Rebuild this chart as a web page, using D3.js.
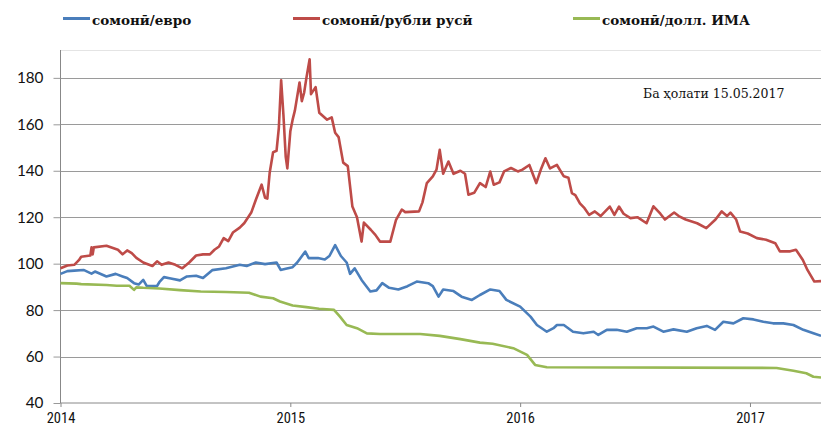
<!DOCTYPE html>
<html>
<head>
<meta charset="utf-8">
<script src="https://cdn.jsdelivr.net/npm/d3@7"></script>
<style>
  html, body { margin: 0; padding: 0; background: #fff; }
  svg { display: block; }
</style>
</head>
<body>
<svg id="chart" width="821" height="427"></svg>
<script>
// ---- DATA (time as decimal year, value = index) ----
const seriesNames = ["сомонӣ/евро", "сомонӣ/рубли русӣ", "сомонӣ/долл. ИМА"];
const yTicks = [40, 60, 80, 100, 120, 140, 160, 180];
const xTicks = [2014, 2015, 2016, 2017];
const note = "Ба ҳолати 15.05.2017";

const eurTime = [2014.00,2014.03,2014.06,2014.10,2014.135,2014.15,2014.20,2014.24,2014.27,2014.29,2014.32,2014.34,2014.36,2014.375,2014.42,2014.43,2014.45,2014.48,2014.52,2014.55,2014.59,2014.62,2014.66,2014.72,2014.78,2014.81,2014.85,2014.89,2014.94,2014.958,2014.98,2015.01,2015.03,2015.065,2015.08,2015.12,2015.15,2015.17,2015.195,2015.22,2015.245,2015.26,2015.28,2015.31,2015.348,2015.375,2015.40,2015.43,2015.47,2015.51,2015.55,2015.60,2015.62,2015.645,2015.665,2015.71,2015.745,2015.79,2015.825,2015.87,2015.91,2015.94,2016.00,2016.045,2016.073,2016.116,2016.145,2016.16,2016.19,2016.23,2016.275,2016.32,2016.34,2016.377,2016.42,2016.464,2016.507,2016.551,2016.58,2016.623,2016.667,2016.725,2016.768,2016.812,2016.848,2016.884,2016.928,2016.971,2017.015,2017.058,2017.10,2017.145,2017.189,2017.232,2017.276,2017.309];
const eurValue = [95.6,96.8,97,97.3,95.7,96.6,94.5,95.6,94.5,93.8,91.6,91,93,90.4,90.4,92,94.2,93.6,92.8,94.5,94.8,93.8,97.2,98,99.5,99,100.5,99.8,100.5,97.3,97.8,98.5,100.5,105.2,102.4,102.4,101.8,103.3,108,103.3,100.5,95.6,98,93,88,88.5,91.6,89.6,88.9,90.3,92.3,91.6,90.3,85.8,88.9,88.2,85.8,84.4,86.5,88.9,88.2,84.4,81.5,77.2,73.6,70.7,72.2,73.6,73.6,70.7,70,70.7,69.3,71.5,71.5,70.7,72.2,72.2,72.9,70.7,71.7,70.7,72.2,73.2,71.5,75,74.3,76.5,76,75,74.3,74.3,73.6,71.5,70,68.9];

const rubTime = [2014.00,2014.03,2014.06,2014.08,2014.09,2014.13,2014.135,2014.14,2014.145,2014.20,2014.25,2014.27,2014.29,2014.31,2014.33,2014.36,2014.40,2014.42,2014.44,2014.47,2014.50,2014.53,2014.56,2014.59,2014.62,2014.65,2014.67,2014.69,2014.71,2014.73,2014.75,2014.78,2014.80,2014.83,2014.85,2014.875,2014.89,2014.90,2014.91,2014.925,2014.94,2014.95,2014.96,2014.97,2014.98,2014.987,2015.00,2015.01,2015.02,2015.04,2015.05,2015.06,2015.07,2015.084,2015.09,2015.11,2015.126,2015.16,2015.18,2015.195,2015.21,2015.23,2015.25,2015.27,2015.29,2015.31,2015.32,2015.35,2015.37,2015.39,2015.435,2015.46,2015.485,2015.50,2015.56,2015.575,2015.594,2015.62,2015.636,2015.65,2015.665,2015.688,2015.71,2015.74,2015.76,2015.775,2015.80,2015.825,2015.85,2015.87,2015.885,2015.91,2015.93,2015.96,2015.99,2016.01,2016.04,2016.07,2016.09,2016.11,2016.13,2016.16,2016.19,2016.21,2016.225,2016.24,2016.26,2016.28,2016.30,2016.325,2016.35,2016.39,2016.41,2016.43,2016.45,2016.48,2016.51,2016.55,2016.58,2016.61,2016.63,2016.67,2016.69,2016.72,2016.77,2016.81,2016.85,2016.877,2016.90,2016.915,2016.94,2016.957,2016.99,2017.03,2017.07,2017.11,2017.13,2017.175,2017.20,2017.23,2017.25,2017.28,2017.309];
const rubValue = [98,99.2,99.5,101.5,103,103.5,107,104,107,107.7,106,104,105.7,104.5,102.5,100.5,99,101,99.5,100.5,99.5,98,100.5,103.5,104,104,106,107.4,111,109.7,113.4,115.5,117.5,122,127.5,134,128.4,128,139,148,148.6,158.5,179,164,146,141,157,162,166,178,170,173.6,180,188,173,176,165,162,163,156.4,154.5,143.5,142,124.6,120,109.5,117.7,114.6,112.4,109.5,109.5,118.9,123.3,122.2,122.5,126.4,134.7,137.6,140.5,149,138.7,144,138.7,140,138.7,129.7,130.5,134.7,133,139.7,134,135,139.7,141.2,139.7,140.5,142.5,134.7,140.5,145.4,141,142.5,137.6,137,130.4,129.5,126,123.9,121,122.5,120.5,124.6,121,124.6,121.5,119.6,120,117.4,124.7,121.5,119,122,120.5,119,117.4,115.3,119,122.5,120.5,122,119,113.8,113,111,110.3,108.8,105.3,105.3,106,101.6,97.3,92.3,92.5];

const usdTime = [2014.00,2014.07,2014.09,2014.20,2014.245,2014.30,2014.32,2014.33,2014.36,2014.43,2014.52,2014.61,2014.72,2014.82,2014.87,2014.925,2014.955,2015.01,2015.07,2015.125,2015.19,2015.216,2015.245,2015.29,2015.333,2015.39,2015.565,2015.65,2015.74,2015.825,2015.88,2015.97,2016.03,2016.065,2016.116,2017.116,2017.189,2017.245,2017.276,2017.309];
const usdValue = [91.6,91.4,91.2,90.8,90.5,90.5,88.7,89.8,89.6,89.3,88.6,88.0,87.8,87.5,85.8,85.1,83.7,82,81.3,80.6,80.1,77.2,73.6,72.2,70,69.7,69.7,68.9,67.5,66,65.5,63.6,60.7,56.4,55.4,55.1,53.9,52.8,51.3,51];

const colors = ["#4a7ebb", "#be4b48", "#98b954"];

// ---- CHART ----
const svg = d3.select("#chart");
const pLeft = 60.5, pRight = 821, pTop = 50, pBottom = 403;

const x = d3.scaleLinear().domain([2014, 2017.309]).range([pLeft, pRight]);
const y = d3.scaleLinear().domain([40, 192]).range([pBottom, pTop]);

// gridlines
svg.append("line").attr("x1", pLeft).attr("x2", pRight).attr("y1", pTop + 0.5).attr("y2", pTop + 0.5)
  .attr("stroke", "#e4e4e4").attr("stroke-width", 1);
svg.append("g").selectAll("line").data(yTicks.filter(d => d > 40)).join("line")
  .attr("x1", pLeft).attr("x2", pRight)
  .attr("y1", d => Math.round(y(d)) + 0.5).attr("y2", d => Math.round(y(d)) + 0.5)
  .attr("stroke", "#9a9a9a").attr("stroke-width", 1);

// y axis
const yAxis = d3.axisLeft(y).tickValues(yTicks).tickSize(7).tickPadding(10).tickFormat(d3.format("d"));
const gy = svg.append("g").attr("transform", `translate(${pLeft},0)`).call(yAxis);
gy.select(".domain").attr("stroke", "#888").attr("d", `M0,${pTop}V${pBottom}`);
gy.selectAll(".tick line").attr("stroke", "#999");
gy.selectAll(".tick text").attr("fill", "#111").style("font-family", "Lato, 'Open Sans', sans-serif").style("font-size", "15.3px");

// x axis
const xAxis = d3.axisBottom(x).tickValues(xTicks).tickSize(4).tickPadding(6).tickFormat(d3.format("d"));
const gx = svg.append("g").attr("transform", `translate(0,${pBottom})`).call(xAxis);
gx.select(".domain").attr("stroke", "#888").attr("d", `M${pLeft},0H${pRight}`);
gx.selectAll(".tick line").attr("stroke", "#888");
gx.selectAll(".tick text").attr("fill", "#111")
  .style("font-family", "'Liberation Sans Narrow', 'Roboto Condensed', 'DejaVu Sans Condensed', sans-serif")
  .style("font-size", "14.5px");

// lines
const line = d3.line().x(d => x(d[0])).y(d => y(d[1]));
const series = [
  d3.zip(eurTime, eurValue),
  d3.zip(rubTime, rubValue),
  d3.zip(usdTime, usdValue)
];
svg.append("g").selectAll("path").data(series).join("path")
  .attr("d", line).attr("fill", "none")
  .attr("stroke", (d, i) => colors[i]).attr("stroke-width", 2.6)
  .attr("stroke-linejoin", "round");

// legend
const legendX = [63, 293, 573];
const lg = svg.append("g").selectAll("g").data(seriesNames).join("g")
  .attr("transform", (d, i) => `translate(${legendX[i]},18.5)`);
lg.append("line").attr("x1", 0).attr("x2", 27).attr("stroke", (d, i) => colors[i]).attr("stroke-width", 3);
lg.append("text").attr("x", 29).attr("y", 2).attr("dy", "0.3em").text(d => d)
  .style("font-family", "'DejaVu Serif', serif").style("font-weight", "bold")
  .style("font-size", "13.5px").attr("fill", "#111");

// note
svg.append("text").attr("x", 643).attr("y", 94).attr("dy", "0.35em").text(note)
  .style("font-family", "'DejaVu Serif', serif").style("font-size", "12.5px").attr("fill", "#111");
</script>
</body>
</html>
